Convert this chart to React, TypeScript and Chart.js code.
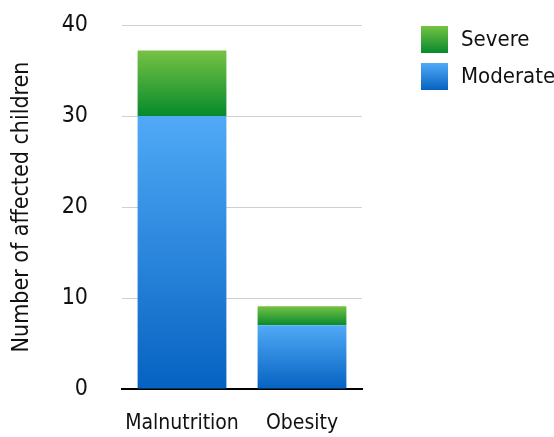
import React, { useEffect, useRef } from "react";
import { Chart, registerables } from "chart.js";

Chart.register(...registerables);

const categories = ["Malnutrition", "Obesity"];
const moderateValues = [30, 7];
const severeValues = [7.2, 2.1];
const yTicks = [0, 10, 20, 30, 40];

const FONT = "'Liberation Sans Narrow', 'DejaVu Sans Condensed', 'Open Sans', sans-serif";

const palette = {
  moderate: ["#50AAF7", "#0662C1"],
  severe: ["#76C244", "#078A2C"],
};

// Vertical gradient spanning one stacked segment, light at the top and dark at the base.
function segmentGradient(ctx: any, bottoms: number[], tops: number[], colors: string[]) {
  const chart = ctx.chart;
  const y = chart.scales?.y;
  if (!chart.chartArea || !y || ctx.dataIndex === undefined) return colors[1];
  const i = ctx.dataIndex;
  const top = y.getPixelForValue(tops[i]);
  const bottom = y.getPixelForValue(bottoms[i]);
  const g = chart.ctx.createLinearGradient(0, top, 0, bottom);
  g.addColorStop(0, colors[0]);
  g.addColorStop(1, colors[1]);
  return g;
}

const legendItems = [
  { label: "Severe", colors: palette.severe },
  { label: "Moderate", colors: palette.moderate },
];

// Legend to the right of the plot, with gradient swatches.
const sideLegend = {
  id: "sideLegend",
  afterDraw(chart: any) {
    const { ctx, chartArea } = chart;
    const x = chartArea.right + 59;
    let y = chartArea.top + 1;
    const box = 27;
    ctx.save();
    legendItems.forEach((item) => {
      const g = ctx.createLinearGradient(0, y, 0, y + box);
      g.addColorStop(0, item.colors[0]);
      g.addColorStop(1, item.colors[1]);
      ctx.fillStyle = g;
      ctx.fillRect(x, y, box, box);
      ctx.fillStyle = "#111";
      ctx.font = `22px ${FONT}`;
      ctx.textBaseline = "middle";
      ctx.textAlign = "left";
      ctx.fillText(item.label, x + 40, y + box / 2 + 1);
      y += 37;
    });
    ctx.restore();
  },
};

export default function App() {
  const ref = useRef<HTMLCanvasElement | null>(null);

  useEffect(() => {
    document.body.style.margin = "0";
    const canvas = ref.current;
    if (!canvas) return;
    const stackTops = moderateValues.map((m, i) => m + severeValues[i]);
    const chart = new Chart(canvas, {
      type: "bar",
      data: {
        labels: categories,
        datasets: [
          {
            label: "Moderate",
            data: moderateValues,
            backgroundColor: (c: any) =>
              segmentGradient(c, moderateValues.map(() => 0), moderateValues, palette.moderate),
            barPercentage: 0.74,
            categoryPercentage: 1,
          },
          {
            label: "Severe",
            data: severeValues,
            backgroundColor: (c: any) =>
              segmentGradient(c, moderateValues, stackTops, palette.severe),
            barPercentage: 0.74,
            categoryPercentage: 1,
          },
        ],
      },
      options: {
        animation: false,
        responsive: false,
        layout: { padding: { left: 0, right: 192, top: 25, bottom: 0 } },
        plugins: { legend: { display: false }, tooltip: { enabled: false } },
        scales: {
          x: {
            stacked: true,
            grid: { display: false, drawTicks: false },
            border: { display: true, color: "#000", width: 2 },
            ticks: {
              color: "#111",
              font: { family: FONT, size: 21 },
              padding: 22,
              maxRotation: 0,
              minRotation: 0,
              autoSkip: false,
            },
            afterFit: (s: any) => {
              s.height = 48;
            },
          },
          y: {
            stacked: true,
            min: 0,
            max: 40,
            afterBuildTicks: (s: any) => {
              s.ticks = yTicks.map((v) => ({ value: v }));
            },
            grid: { color: "#D0D0D0", lineWidth: 1, drawTicks: false },
            border: { display: false },
            ticks: { color: "#111", font: { family: FONT, size: 23 }, padding: 34 },
            title: {
              display: true,
              text: "Number of affected children",
              color: "#111",
              font: { family: FONT, size: 23 },
              padding: { top: 8, bottom: 0 },
            },
            afterFit: (s: any) => {
              s.width = 122;
              s.paddingTop = 0;
              s.paddingBottom = 0;
            },
          },
        },
      },
      plugins: [sideLegend],
    });
    return () => chart.destroy();
  }, []);

  return <canvas ref={ref} width={554} height={437} style={{ display: "block" }} />;
}
